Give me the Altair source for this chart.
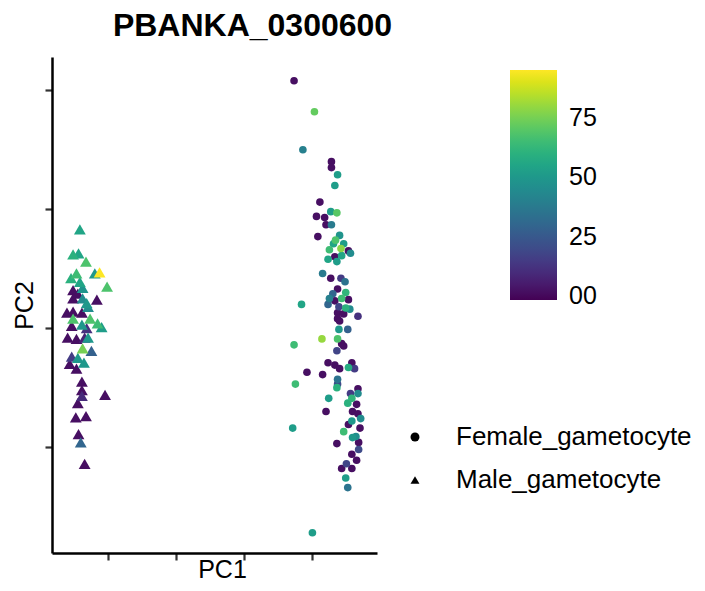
import altair as alt
import pandas as pd

# Male gametocytes (triangles): PC1, PC2, colour value
male_pc1 = [-24.1, -25.1, -24.3, -23.2, -21.2, -21.9, -24.6, -25.4, -24.1, -20.1,
            -25.1, -23.7, -21.6, -23.7, -25.1, -22.9, -26.0, -25.1, -23.8, -22.6,
            -21.5, -20.9, -25.1, -25.3, -23.8, -23.1, -25.9, -24.6, -23.4, -22.9,
            -23.7, -22.4, -25.3, -24.4, -23.5, -25.6, -24.6, -23.8, -23.8, -23.8,
            -20.4, -24.4, -24.7, -23.2, -24.3, -23.97, -23.4, -23.1, -24.4]
male_pc2 = [8.3, 6.2, 6.3, 5.6, 4.7, 4.6, 4.6, 4.2, 3.9, 3.5,
            3.2, 3.4, 2.4, 2.5, 2.5, 1.8, 1.3, 1.4, 1.3, 0.8,
            0.4, 0.1, 0.8, 0.2, 0.3, 0.0, -0.8, -0.9, -0.8, -0.8,
            -1.7, -1.9, -2.4, -2.5, -2.9, -3.0, -3.4, -4.5, -5.2, -5.7,
            -5.6, -6.3, -7.5, -7.4, -8.9, -9.6, -11.4, 2.1, 2.9]
male_val = [55, 60, 55, 68, 95, 50, 65, 60, 55, 68,
            2, 48, 2, 45, 2, 45, 2, 2, 2, 68,
            65, 52, 68, 2, 50, 12, 2, 2, 8, 50,
            75, 28, 15, 50, 50, 2, 2, 2, 2, 10,
            2, 2, 2, 2, 2, 30, 2, 50, 2]

# Female gametocytes (circles): PC1, PC2, colour value
female_pc1 = [7.4, 10.4, 8.7, 12.9, 12.9, 13.8, 13.4, 11.2, 12.8, 13.7,
              10.7, 11.9, 12.1, 12.9, 10.9, 14.1, 13.5, 14.7, 13.2, 14.3,
              12.6, 15.4, 15.7, 14.4, 13.4, 12.4, 13.7, 11.6, 12.8, 14.3,
              14.9, 13.8, 15.0, 12.6, 14.4, 15.4, 8.5, 12.4, 14.0, 15.0,
              15.6, 13.8, 14.7, 13.8, 16.8, 14.0, 15.3, 11.5, 13.8, 14.4,
              14.7, 13.7, 7.4, 12.4, 13.4, 14.1, 15.9, 15.4, 16.3, 9.3,
              11.6, 13.8, 13.8, 13.7, 7.6, 12.5, 15.7, 16.8, 16.8, 15.9,
              15.3, 16.6, 12.1, 16.0, 16.8, 17.2, 15.9, 15.4, 17.1, 7.2,
              14.7, 16.0, 16.5, 13.7, 16.9, 16.9, 15.9, 16.6, 15.1, 14.4,
              15.9, 15.0, 15.3, 10.1, 13.1, 14.1, 13.4]
female_pc2 = [20.8, 18.2, 15.0, 14.0, 13.5, 12.9, 12.0, 10.6, 9.8, 9.7,
              9.4, 9.3, 8.7, 8.7, 7.7, 7.8, 7.4, 7.1, 7.1, 6.7,
              6.6, 6.5, 6.3, 6.1, 6.0, 5.8, 5.6, 4.6, 4.2, 4.2,
              3.9, 3.3, 3.0, 2.5, 2.5, 2.4, 2.0, 2.0, 1.8, 1.7,
              1.6, 1.3, 1.2, 0.8, 1.0, -0.1, -0.1, -0.9, -0.9, -1.3,
              -1.5, -1.9, -1.4, -2.9, -3.1, -3.4, -2.9, -3.3, -3.4, -3.7,
              -3.9, -4.3, -4.7, -5.0, -4.7, -5.9, -5.5, -5.1, -5.5, -5.9,
              -6.3, -6.4, -7.0, -7.0, -7.2, -7.6, -7.8, -8.1, -8.4, -8.4,
              -8.7, -9.2, -9.1, -9.7, -9.6, -10.2, -10.6, -11.1, -11.4, -11.8,
              -11.8, -12.6, -13.4, -17.2, 2.9, 0.6, 2.3]
female_val = [2, 72, 40, 2, 2, 52, 52, 2, 52, 70,
              2, 2, 2, 38, 2, 48, 68, 52, 55, 78,
              65, 2, 45, 55, 2, 55, 52, 38, 2, 15,
              35, 2, 62, 40, 65, 2, 55, 30, 18, 60,
              45, 2, 2, 2, 12, 50, 28, 80, 68, 2,
              2, 18, 65, 2, 2, 2, 2, 58, 15, 2,
              2, 35, 20, 60, 65, 52, 15, 2, 45, 62,
              60, 2, 2, 2, 2, 45, 50, 2, 2, 52,
              65, 50, 45, 2, 2, 20, 2, 2, 18, 2,
              2, 52, 35, 52, 30, 2, 2]

cell_types = ["Female_gametocyte", "Male_gametocyte"]
x_ticks = [-20, -10, 0, 10]
y_ticks = [-10, 0, 10, 20]
colour_ticks = [0, 25, 50, 75]

female_df = pd.DataFrame({"PC1": female_pc1, "PC2": female_pc2, "expr": female_val,
                          "cell_type": cell_types[0]})
male_df = pd.DataFrame({"PC1": male_pc1, "PC2": male_pc2, "expr": male_val,
                        "cell_type": cell_types[1]})
df = pd.concat([female_df, male_df], ignore_index=True)

FONT = "Liberation Sans"

enc = dict(
    x=alt.X("PC1:Q", scale=alt.Scale(domain=[-28.2, 19.6], nice=False, zero=False),
            axis=alt.Axis(values=x_ticks, labels=False, grid=False, title="PC1",
                          titleX=170, titleY=24, titleBaseline="alphabetic")),
    y=alt.Y("PC2:Q", scale=alt.Scale(domain=[-18.9, 22.8], nice=False, zero=False),
            axis=alt.Axis(values=y_ticks, labels=False, grid=False, title="PC2",
                          titleX=-20, titleBaseline="alphabetic")),
    color=alt.Color("expr:Q",
                    scale=alt.Scale(scheme="viridis", domain=[-1.5, 95]),
                    legend=alt.Legend(title=None, orient="none", legendX=458, legendY=13,
                                      values=colour_ticks, gradientLength=230,
                                      gradientThickness=47, gradientStrokeWidth=0,
                                      labelFontSize=25, labelOffset=12,
                                      labelOverlap=False,
                                      labelExpr="datum.value == 0 ? '00' : datum.label")),
    shape=alt.Shape("cell_type:N",
                    scale=alt.Scale(domain=cell_types, range=["circle", "triangle-up"]),
                    legend=alt.Legend(title=None, orient="none", legendX=350, legendY=367,
                                      labelFontSize=26, symbolSize=80, labelLimit=0,
                                      symbolFillColor="black", symbolStrokeWidth=0,
                                      labelOffset=28, rowPadding=17)),
    order=alt.Order("expr:Q", sort="ascending"),
)

base = alt.Chart(df)
females = base.transform_filter(alt.datum.cell_type == cell_types[0]).mark_point(
    filled=True, opacity=1, strokeWidth=0, size=58).encode(**enc)
males = base.transform_filter(alt.datum.cell_type == cell_types[1]).mark_point(
    filled=True, opacity=1, strokeWidth=0, size=140).encode(**enc)

chart = alt.layer(females, males).properties(
    width=325, height=496,
    title=alt.Title("PBANKA_0300600", fontSize=32, fontWeight="bold", font=FONT,
                    anchor="middle", dx=38, offset=14),
    autosize=alt.AutoSizeParams(type="none"),
    padding={"left": 44, "top": 49, "right": 320, "bottom": 30},
).configure_view(stroke=None).configure_axis(
    domainColor="black", domainWidth=2.5, tickColor="#333333", tickWidth=2.2,
    tickSize=7, titleFont=FONT, titleFontSize=25, titleFontWeight="normal",
    titleColor="black",
).configure_legend(
    labelFont=FONT, labelColor="black", padding=0,
)

chart.save("out.html", embed_options={"renderer": "svg", "actions": False})
